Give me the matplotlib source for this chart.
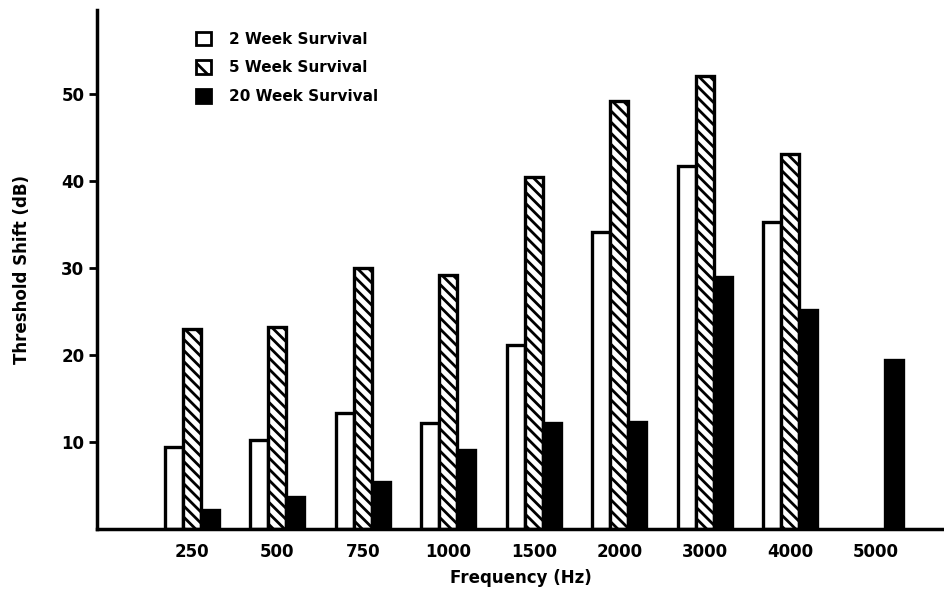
import matplotlib
matplotlib.use('Agg')
import matplotlib.pyplot as plt
import numpy as np
from matplotlib.patches import Patch

# data
freqs = ['250', '500', '750', '1000', '1500', '2000', '3000', '4000', '5000']
week2 = [9.4, 10.2, 13.3, 12.1, 21.1, 34.1, 41.7, 35.2, np.nan]
week5 = [22.9, 23.2, 30.0, 29.2, 40.4, 49.2, 52.0, 43.1, np.nan]
week20 = [2.2, 3.6, 5.4, 9.0, 12.2, 12.3, 28.9, 25.1, 19.4]
yticks = [10, 20, 30, 40, 50]

plt.rcParams['font.family'] = 'DejaVu Sans'
plt.rcParams['font.weight'] = 'bold'
plt.rcParams['hatch.linewidth'] = 2.0
plt.rcParams['hatch.color'] = 'black'

fig = plt.figure(figsize=(9.45, 5.93), dpi=100)
ax = fig.add_axes([0.1026, 0.1084, 0.8974, 0.8747])

x = np.arange(len(freqs))
w = 0.21
lw = 2.4
ax.bar(x - w, week2, w, color='white', edgecolor='black', linewidth=lw)
ax.bar(x, week5, w, color='white', edgecolor='black', linewidth=lw, hatch='\\\\\\')
ax.bar(x + w, week20, w, color='black', edgecolor='black', linewidth=lw)

ax.set_xlim(-1.11, 8.81)
ax.set_ylim(0, 59.6)
ax.set_xticks(x)
ax.set_xticklabels(freqs, fontsize=12, fontweight='bold')
ax.tick_params(axis='x', length=0, pad=10)
ax.set_yticks(yticks)
ax.set_yticklabels([str(t) for t in yticks], fontsize=12, fontweight='bold')
ax.tick_params(axis='y', direction='out', length=6, width=2, pad=3)

for s in ['top', 'right']:
    ax.spines[s].set_visible(False)
for s in ['left', 'bottom']:
    ax.spines[s].set_linewidth(2.5)

ax.set_ylabel('Threshold Shift (dB)', fontsize=12, fontweight='bold', labelpad=22)
ax.set_xlabel('Frequency (Hz)', fontsize=12, fontweight='bold', labelpad=6)

handles = [
    Patch(facecolor='white', edgecolor='black', linewidth=2, label='2 Week Survival'),
    Patch(facecolor='white', edgecolor='black', linewidth=2, hatch='\\\\', label='5 Week Survival'),
    Patch(facecolor='black', edgecolor='black', linewidth=2, label='20 Week Survival'),
]
ax.legend(handles=handles, loc='upper left', bbox_to_anchor=(0.1, 0.985), frameon=False,
          handlelength=1.0, handleheight=1.0, handletextpad=1.2, labelspacing=0.9,
          prop={'size': 11, 'weight': 'bold'})

fig.savefig('out.png', dpi=100)
